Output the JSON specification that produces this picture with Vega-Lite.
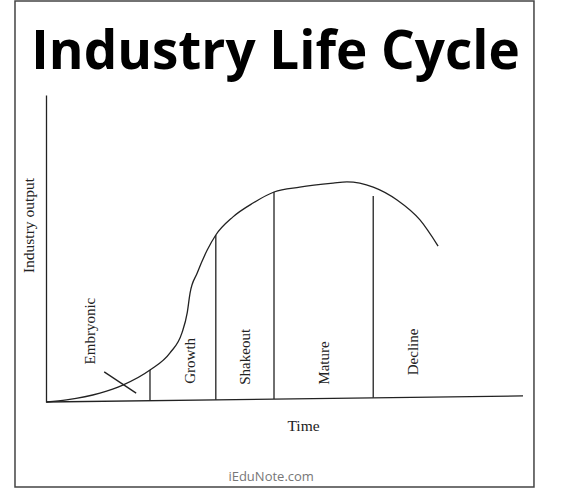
{
  "$schema": "https://vega.github.io/schema/vega-lite/v6.json",
  "width": 477,
  "height": 307,
  "autosize": {"type": "none"},
  "padding": {"left": 46, "top": 95, "right": 41, "bottom": 97},
  "background": "white",
  "config": {"view": {"stroke": null}},
  "title": {
    "text": "Industry Life Cycle",
    "font": "Open Sans",
    "fontSize": 53,
    "fontWeight": "bold",
    "color": "#000",
    "anchor": "middle",
    "baseline": "alphabetic",
    "dx": -9,
    "offset": -122
  },
  "datasets": {
    "curve": [
      {"t": 0.2, "output": 0},
      {"t": 4.3, "output": 0.7},
      {"t": 11.3, "output": 2.9},
      {"t": 16.1, "output": 5.5},
      {"t": 21.8, "output": 10.4},
      {"t": 26.0, "output": 16.0},
      {"t": 28.5, "output": 22.5},
      {"t": 29.6, "output": 29.0},
      {"t": 30.2, "output": 35.5},
      {"t": 31.7, "output": 42.0},
      {"t": 33.8, "output": 49.5},
      {"t": 35.6, "output": 54.4},
      {"t": 39.2, "output": 60.3},
      {"t": 43.4, "output": 64.8},
      {"t": 47.8, "output": 68.4},
      {"t": 53.2, "output": 70.0},
      {"t": 60.2, "output": 71.3},
      {"t": 63.1, "output": 71.7},
      {"t": 68.6, "output": 70.0},
      {"t": 73.6, "output": 65.8},
      {"t": 78.4, "output": 59.3},
      {"t": 82.2, "output": 50.8}
    ],
    "strokes": [
      {"name": "time axis", "t": 0, "output": 0, "t2": 100, "output2": 2},
      {"name": "cross", "t": 12.2, "output": 9.8, "t2": 18.9, "output2": 2.9}
    ],
    "boundaries": [
      {"t": 21.8, "output": 0.4, "output2": 10.4},
      {"t": 35.6, "output": 0.7, "output2": 54.4},
      {"t": 47.8, "output": 1.0, "output2": 68.4},
      {"t": 68.6, "output": 1.4, "output2": 67.1}
    ],
    "stages": [
      {"stage": "Embryonic", "t": 9.2, "output": 23.1},
      {"stage": "Growth", "t": 30.2, "output": 13.4},
      {"stage": "Shakeout", "t": 41.7, "output": 14.7},
      {"stage": "Mature", "t": 58.3, "output": 12.7},
      {"stage": "Decline", "t": 76.9, "output": 16.3}
    ],
    "credit": [
      {"label": "iEduNote.com", "t": 47.2, "output": -24.4}
    ],
    "frame": [
      {"t": -6.5, "t2": 102.3, "output": -27.7, "output2": 130.6}
    ]
  },
  "encoding": {
    "x": {
      "field": "t", "type": "quantitative",
      "scale": {"domain": [0, 100], "nice": false, "zero": false},
      "axis": {
        "domain": false, "ticks": false, "labels": false, "grid": false,
        "title": "Time", "titleFont": "Liberation Serif", "titleFontWeight": "normal",
        "titleFontSize": 15.5, "titleColor": "#222", "titlePadding": 16, "titleX": 257
      }
    },
    "y": {
      "field": "output", "type": "quantitative",
      "scale": {"domain": [0, 100], "nice": false, "zero": false},
      "axis": {
        "domain": true, "domainColor": "#222", "domainWidth": 1.3,
        "ticks": false, "labels": false, "grid": false,
        "title": "Industry output", "titleFont": "Liberation Serif", "titleFontWeight": "normal",
        "titleFontSize": 15.5, "titleColor": "#222", "titlePadding": 10, "titleY": 130
      }
    }
  },
  "layer": [
    {
      "data": {"name": "curve"},
      "mark": {"type": "line", "interpolate": "monotone", "color": "#222", "strokeWidth": 1.3}
    },
    {
      "data": {"name": "strokes"},
      "mark": {"type": "rule", "color": "#222", "strokeWidth": 1.3},
      "encoding": {
        "x2": {"field": "t2"},
        "y2": {"field": "output2"}
      }
    },
    {
      "data": {"name": "boundaries"},
      "mark": {"type": "rule", "color": "#222", "strokeWidth": 1.3},
      "encoding": {
        "y2": {"field": "output2"}
      }
    },
    {
      "data": {"name": "stages"},
      "mark": {"type": "text", "angle": 270, "align": "center", "baseline": "middle", "font": "Liberation Serif", "fontSize": 15, "color": "#222"},
      "encoding": {
        "text": {"field": "stage"}
      }
    },
    {
      "data": {"name": "credit"},
      "mark": {"type": "text", "align": "center", "baseline": "middle", "font": "Open Sans", "fontSize": 13, "color": "#777"},
      "encoding": {
        "text": {"field": "label"}
      }
    },
    {
      "data": {"name": "frame"},
      "mark": {"type": "rect", "filled": false, "stroke": "#444", "strokeWidth": 1.5},
      "encoding": {
        "x2": {"field": "t2"},
        "y2": {"field": "output2"}
      }
    }
  ]
}
